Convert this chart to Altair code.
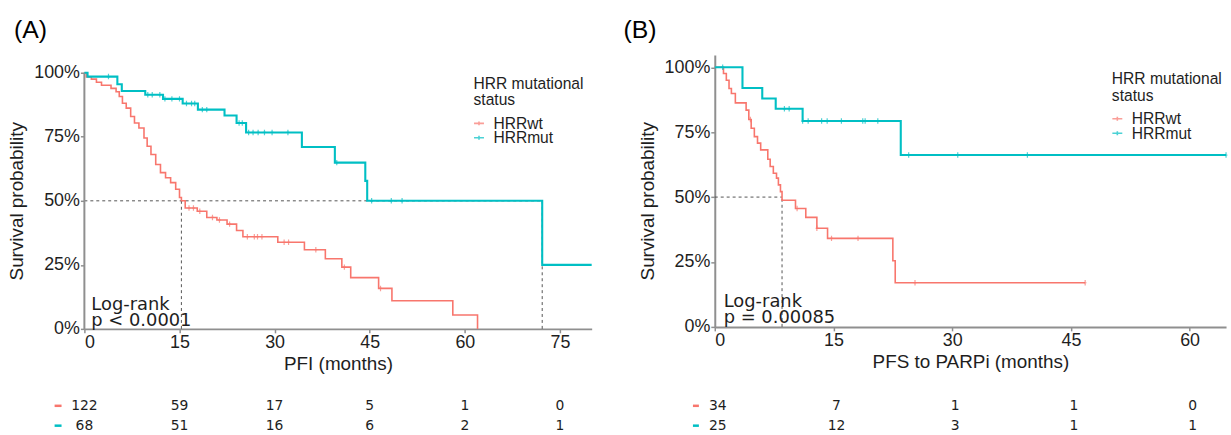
import altair as alt
import pandas as pd

RED = "#F8766D"
TEAL = "#00BFC4"
GROUPS = ["HRRwt", "HRRmut"]
COLORS = [RED, TEAL]

# ---------------- Panel A : PFI ----------------
a_wt_time = [0, 0.3, 1.1, 1.9, 2.7, 4.2, 5.0, 5.5, 6.0, 6.6, 7.3, 7.9, 8.6, 9.4, 9.9, 10.5, 11.25,
             12.0, 12.8, 13.6, 14.4, 15.0, 15.3, 15.9, 17.8, 19.3, 20.9, 22.5, 24.0, 25.0, 30.5,
             34.7, 38.0, 40.6, 42.0, 46.4, 48.5, 58.1, 62.0]
a_wt_surv = [1.0, 0.984, 0.975, 0.963, 0.951, 0.939, 0.926, 0.907, 0.881, 0.862, 0.829, 0.804,
             0.784, 0.745, 0.713, 0.681, 0.642, 0.610, 0.590, 0.571, 0.545, 0.513, 0.500, 0.472,
             0.459, 0.435, 0.425, 0.409, 0.384, 0.360, 0.338, 0.309, 0.274, 0.241, 0.200, 0.158,
             0.110, 0.054, 0.0]
a_wt_censor = [16.5, 17.2, 18.2, 20.2, 21.3, 22.9, 25.7, 26.8, 27.3, 28.0, 31.5, 32.2, 36.5,
               41.0, 46.7]
a_mut_time = [0, 0.5, 5.2, 5.9, 9.6, 12.4, 15.5, 17.9, 22.1, 24.0, 25.5, 34.3, 39.5, 44.3, 44.6,
              72.2, 80.0]
a_mut_surv = [1.0, 0.985, 0.955, 0.929, 0.914, 0.898, 0.880, 0.856, 0.833, 0.804, 0.767, 0.710,
              0.649, 0.578, 0.500, 0.250, 0.250]
a_mut_censor = [3.8, 10.0, 10.7, 11.9, 12.7, 13.8, 15.0, 16.1, 16.9, 17.4, 18.6, 19.3, 24.4, 24.9,
                25.9, 26.6, 27.4, 28.4, 29.6, 32.1, 39.8, 45.3, 48.4, 50.1]
a_medians = [15.3, 72.2]
a_ticks = [0, 15, 30, 45, 60, 75]
a_risk_wt = [122, 59, 17, 5, 1, 0]
a_risk_mut = [68, 51, 16, 6, 2, 1]

# ---------------- Panel B : PFS to PARPi ----------------
b_wt_time = [0, 1.1, 1.46, 1.8, 2.1, 2.6, 3.96, 4.3, 4.6, 5.0, 5.4, 5.8, 6.7, 7.0, 7.4, 7.8, 8.04,
             8.3, 8.5, 10.2, 11.5, 12.9, 14.25, 22.5, 22.8, 46.8]
b_wt_surv = [1.0, 0.976, 0.95, 0.918, 0.899, 0.863, 0.835, 0.799, 0.765, 0.733, 0.708, 0.682,
             0.646, 0.618, 0.592, 0.573, 0.547, 0.521, 0.488, 0.456, 0.422, 0.380, 0.341, 0.255,
             0.170, 0.170]
b_wt_censor = [4.5, 10.4, 12.9, 14.75, 18.1, 25.3, 46.8]
b_mut_time = [0, 3.5, 6.0, 7.7, 11.1, 23.5, 64.6]
b_mut_surv = [1.0, 0.92, 0.88, 0.84, 0.793, 0.662, 0.662]
b_mut_censor = [1.0, 8.8, 9.4, 11.1, 11.8, 13.5, 14.2, 16.0, 18.7, 19.0, 20.6, 24.5, 30.7, 39.5,
                64.6]
b_medians = [8.5]
b_ticks = [0, 15, 30, 45, 60]
b_risk_wt = [34, 7, 1, 1, 0]
b_risk_mut = [25, 12, 3, 1, 1]

LEGEND_TITLE = ["HRR mutational", "status"]
Y_TITLE = "Survival probability"
Y_TICKS = [0, 0.25, 0.5, 0.75, 1.0]

AXIS_GRAY = "#8f8f8f"
TEXT = "#1e1e1e"


def step_value(times, survs, t):
    s = survs[0]
    for ti, si in zip(times, survs):
        if ti <= t:
            s = si
    return s


def one(**kw):
    return pd.DataFrame([kw])


def make_panel(p):
    xs = alt.Scale(domain=[0, p["xmax"]], nice=False, zero=False)
    ys = alt.Scale(domain=[0, p["ytop"]], nice=False)
    cs = alt.Scale(domain=GROUPS, range=COLORS)
    ws = alt.Scale(domain=GROUPS, range=[1.6, 2.1])

    curves = pd.DataFrame(
        [{"time": t, "surv": s, "group": GROUPS[0]} for t, s in zip(p["wt_t"], p["wt_s"])]
        + [{"time": t, "surv": s, "group": GROUPS[1]} for t, s in zip(p["mut_t"], p["mut_s"])]
    )
    cens = pd.DataFrame(
        [{"time": t, "surv": step_value(p["wt_t"], p["wt_s"], t), "group": GROUPS[0]} for t in p["wt_c"]]
        + [{"time": t, "surv": step_value(p["mut_t"], p["mut_s"], t), "group": GROUPS[1]} for t in p["mut_c"]]
    )
    med_rows = []
    for m in p["medians"]:
        med_rows.append({"time": m, "time2": m, "surv": 0.0, "surv2": 0.5})
    med_rows.append({"time": 0.0, "time2": max(p["medians"]), "surv": 0.5, "surv2": 0.5})
    meds = pd.DataFrame(med_rows)

    xaxis = alt.Axis(values=p["ticks"], title=p["xtitle"], labelPadding=1, titlePadding=2.5,
                     tickSize=4)
    yaxis = alt.Axis(values=Y_TICKS, format=".0%", title=Y_TITLE, domain=not p["manual_axis"],
                     labelPadding=1, titlePadding=7, titleY=147, tickSize=4)

    layers = []
    layers.append(
        alt.Chart(meds).mark_rule(strokeDash=[3, 3], color="#555555", strokeWidth=1).encode(
            x=alt.X("time:Q", scale=xs, axis=xaxis),
            x2="time2:Q",
            y=alt.Y("surv:Q", scale=ys, axis=yaxis),
            y2="surv2:Q",
        )
    )
    if p["manual_axis"]:
        layers.append(
            alt.Chart(one(time=0.0, surv=0.0, surv2=1.0)).mark_rule(
                color=AXIS_GRAY, strokeWidth=2
            ).encode(x="time:Q", y="surv:Q", y2="surv2:Q")
        )
    layers.append(
        alt.Chart(curves).mark_line(interpolate="step-after").encode(
            x="time:Q",
            y="surv:Q",
            color=alt.Color("group:N", scale=cs, legend=None),
            strokeWidth=alt.StrokeWidth("group:N", scale=ws, legend=None),
        )
    )
    layers.append(
        alt.Chart(cens).mark_point(shape="M-0.5,0L0.5,0M0,-1L0,1", filled=False, size=30,
                                   strokeWidth=1.2).encode(
            x="time:Q",
            y="surv:Q",
            color=alt.Color("group:N", scale=cs, legend=None),
        )
    )
    # log-rank text
    for txt, yy in zip(p["pval"], p["pval_y"]):
        layers.append(
            alt.Chart(one(t=txt)).mark_text(align="left", baseline="alphabetic", font="DejaVu Sans",
                                           fontSize=18, color=TEXT).encode(
                x=alt.value(p["pval_x"]), y=alt.value(yy), text="t:N")
        )
    # panel label
    layers.append(
        alt.Chart(one(t=p["label"])).mark_text(align="left", baseline="alphabetic",
                                               font="Liberation Sans", fontSize=25,
                                               color="#000000").encode(
            x=alt.value(p["label_x"]), y=alt.value(-17.5), text="t:N")
    )
    # legend
    lx, ly = p["leg_x"], p["leg_y"]
    for i, line in enumerate(LEGEND_TITLE):
        layers.append(
            alt.Chart(one(t=line)).mark_text(align="left", baseline="alphabetic",
                                             font="Liberation Sans", fontSize=15.7,
                                             color=TEXT).encode(
                x=alt.value(lx), y=alt.value(ly[i]), text="t:N")
        )
    for i, (g, c) in enumerate(zip(GROUPS, COLORS)):
        layers.append(
            alt.Chart(one(t=g)).mark_text(align="left", baseline="alphabetic",
                                          font="Liberation Sans", fontSize=15.7,
                                          color=TEXT).encode(
                x=alt.value(lx + 20), y=alt.value(ly[2 + i]), text="t:N")
        )
        layers.append(
            alt.Chart(one(t=g)).mark_point(shape="M-1,0L1,0M0,-0.4L0,0.4", filled=False,
                                           size=100, strokeWidth=1.6, color=c).encode(
                x=alt.value(lx + 5.5), y=alt.value(ly[2 + i] - 5.3))
        )
    # risk table
    for i, (vals, c) in enumerate(zip([p["risk_wt"], p["risk_mut"]], COLORS)):
        rdf = pd.DataFrame({"time": p["ticks"], "n": vals})
        layers.append(
            alt.Chart(rdf).mark_text(align="center", baseline="alphabetic", font="DejaVu Sans",
                                     fontSize=14, color=TEXT, dx=p["risk_dx"]).encode(
                x="time:Q", y=alt.value(358 + 20 * i), text="n:Q")
        )
        layers.append(
            alt.Chart(one(t=GROUPS[i])).mark_rule(color=c, strokeWidth=2.5).encode(
                x=alt.value(p["dash_x"][0]), x2=alt.value(p["dash_x"][1]),
                y=alt.value(353.5 + 20 * i))
        )
    return alt.layer(*layers).properties(width=p["width"], height=p["height"])


panel_a = make_panel(dict(
    wt_t=a_wt_time, wt_s=a_wt_surv, wt_c=a_wt_censor,
    mut_t=a_mut_time, mut_s=a_mut_surv, mut_c=a_mut_censor,
    medians=a_medians, ticks=a_ticks, risk_wt=a_risk_wt, risk_mut=a_risk_mut,
    xmax=80.0, ytop=276 / 258, width=511, height=276, xtitle="PFI (months)",
    manual_axis=True, pval=["Log-rank", "p < 0.0001"], pval_x=7, pval_y=[257, 273],
    label="(A)", label_x=-71, leg_x=392, leg_y=[34.3, 50.3, 74.3, 88.7],
    dash_x=[-30, -23], risk_dx=0,
))

panel_b = make_panel(dict(
    wt_t=b_wt_time, wt_s=b_wt_surv, wt_c=b_wt_censor,
    mut_t=b_mut_time, mut_s=b_mut_surv, mut_c=b_mut_censor,
    medians=b_medians, ticks=b_ticks, risk_wt=b_risk_wt, risk_mut=b_risk_mut,
    xmax=64.6, ytop=274 / 261.5, width=515, height=274, xtitle="PFS to PARPi (months)",
    manual_axis=False, pval=["Log-rank", "p = 0.00085"], pval_x=9, pval_y=[254.3, 270.3],
    label="(B)", label_x=-92, leg_x=400, leg_y=[29.7, 46.3, 69.7, 84.3],
    dash_x=[-22, -16], risk_dx=3,
))

chart = alt.hconcat(panel_a, panel_b, spacing=27).resolve_scale(
    x="independent", y="independent", color="independent", strokeWidth="independent"
).configure_view(stroke=None).configure_axis(
    grid=False,
    labelFont="Liberation Sans", labelFontSize=18, labelColor=TEXT,
    titleFont="Liberation Sans", titleFontSize=19, titleFontWeight="normal", titleColor=TEXT,
    domainColor=AXIS_GRAY, domainWidth=2, tickColor=AXIS_GRAY, tickWidth=1.5,
).properties(padding={"left": 7, "top": 15.7, "right": 0, "bottom": 0})

chart.save("out.html", embed_options={"renderer": "svg", "actions": False})
